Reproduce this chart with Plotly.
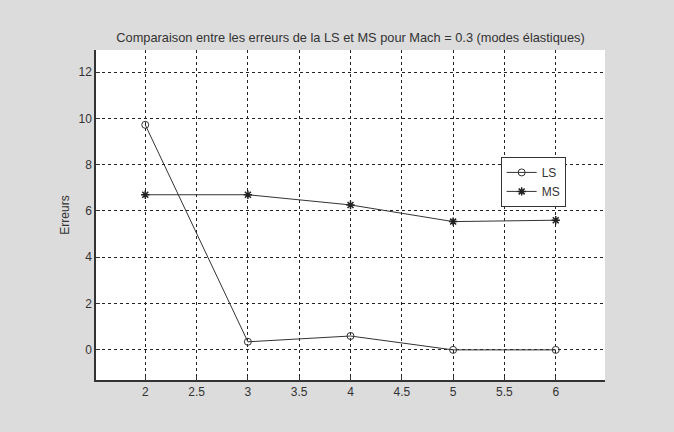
import plotly.graph_objects as go

x_vals = [2, 3, 4, 5, 6]
ls_vals = [9.72, 0.35, 0.6, 0.0, 0.0]
ms_vals = [6.7, 6.7, 6.26, 5.54, 5.6]
x_ticks = [2, 2.5, 3, 3.5, 4, 4.5, 5, 5.5, 6]
y_ticks = [0, 2, 4, 6, 8, 10, 12]

title_text = "Comparaison entre les erreurs de la LS et MS pour Mach = 0.3 (modes élastiques)"

fig = go.Figure()
fig.add_trace(go.Scatter(
    x=x_vals, y=ls_vals, name="LS", mode="lines+markers",
    line=dict(color="#333333", width=1),
    marker=dict(symbol="circle-open", size=7, color="#333333", line=dict(width=1)),
))
fig.add_trace(go.Scatter(
    x=x_vals, y=ms_vals, name="MS", mode="lines+markers",
    line=dict(color="#333333", width=1),
    marker=dict(symbol="asterisk-open", size=7, color="#222222", line=dict(width=1.5, color="#222222")),
))

fig.update_layout(
    width=674, height=432,
    margin=dict(l=96, r=69, t=50, b=52),
    paper_bgcolor="#dcdcdc",
    plot_bgcolor="white",
    font=dict(family="Liberation Sans, Arial, sans-serif", size=12, color="#333333"),
    title=dict(text=title_text, x=0.5, xref="paper", xanchor="center", y=1 - 38 / 432, yanchor="middle",
               font=dict(size=12.8, color="#333333")),
    showlegend=True,
    legend=dict(x=0.795, y=0.676, xanchor="left", yanchor="top",
                bgcolor="white", bordercolor="#333333", borderwidth=1,
                font=dict(size=12, color="#333333"), tracegroupgap=0,
                itemwidth=30),
)
fig.update_xaxes(
    range=[1.52, 6.48], tickvals=x_ticks, ticktext=[str(v) for v in x_ticks],
    showgrid=True, gridcolor="#222222", griddash="3px,3px", gridwidth=1,
    zeroline=False, showline=True, linecolor="#333333", linewidth=1.5,
    ticks="inside", ticklen=4, tickcolor="#333333",
)
fig.update_yaxes(
    range=[-1.3, 12.95], tickvals=y_ticks,
    showgrid=True, gridcolor="#222222", griddash="3px,3px", gridwidth=1,
    zeroline=False, showline=True, linecolor="#333333", linewidth=1.5,
    ticks="inside", ticklen=4, tickcolor="#333333",
    title=dict(text="Erreurs", standoff=6, font=dict(size=12, color="#333333")),
)

fig.write_html("out.html")
